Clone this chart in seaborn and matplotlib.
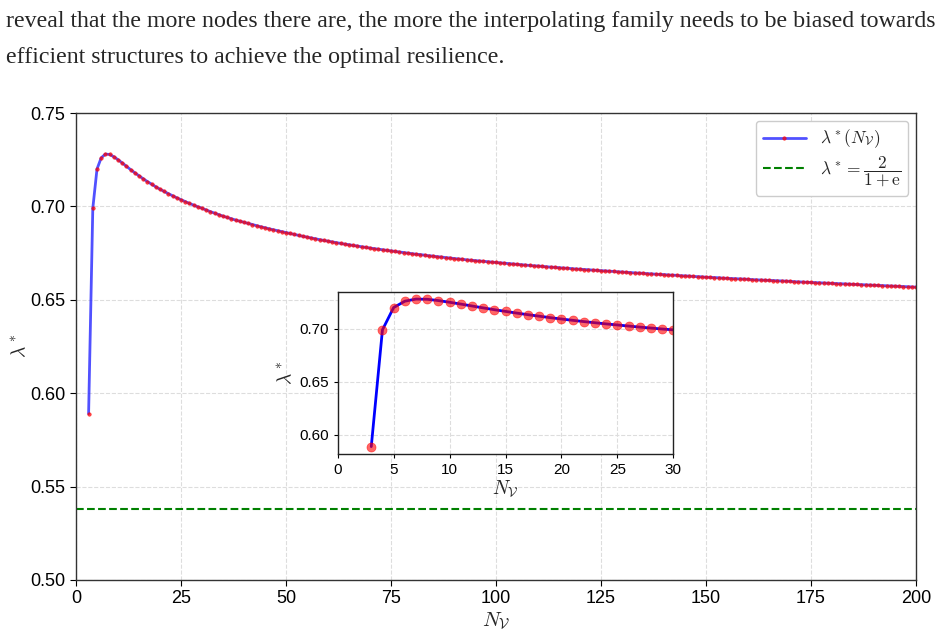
#!/usr/bin/env python3
import numpy as np
import pandas as pd
import matplotlib
matplotlib.use("Agg")
import matplotlib.pyplot as plt
import seaborn as sns

# Values
n_nodes = list(range(3, 201))
lambda_opt = [
    0.5890, 0.6990, 0.7200, 0.7260, 0.7280, 0.7278, 0.7266, 0.7250, 0.7233, 0.7215,  # 3-12
    0.7197, 0.7180, 0.7164, 0.7148, 0.7133, 0.7119, 0.7105, 0.7092, 0.7080, 0.7068,  # 13-22
    0.7057, 0.7046, 0.7036, 0.7026, 0.7016, 0.7007, 0.6998, 0.6990, 0.6981, 0.6972,  # 23-32
    0.6964, 0.6956, 0.6948, 0.6941, 0.6934, 0.6927, 0.6921, 0.6915, 0.6909, 0.6903,  # 33-42
    0.6897, 0.6891, 0.6886, 0.6880, 0.6875, 0.6870, 0.6865, 0.6860, 0.6855, 0.6850,  # 43-52
    0.6845, 0.6840, 0.6836, 0.6831, 0.6827, 0.6822, 0.6818, 0.6814, 0.6810, 0.6806,  # 53-62
    0.6802, 0.6798, 0.6795, 0.6791, 0.6788, 0.6784, 0.6781, 0.6777, 0.6774, 0.6771,  # 63-72
    0.6768, 0.6765, 0.6762, 0.6759, 0.6756, 0.6753, 0.6750, 0.6747, 0.6744, 0.6742,  # 73-82
    0.6739, 0.6736, 0.6734, 0.6731, 0.6729, 0.6726, 0.6724, 0.6721, 0.6719, 0.6717,  # 83-92
    0.6714, 0.6712, 0.6710, 0.6708, 0.6706, 0.6704, 0.6702, 0.6700, 0.6698, 0.6696,  # 93-102
    0.6694, 0.6692, 0.6690, 0.6688, 0.6686, 0.6684, 0.6682, 0.6681, 0.6679, 0.6677,  # 103-112
    0.6675, 0.6674, 0.6672, 0.6670, 0.6669, 0.6667, 0.6665, 0.6664, 0.6662, 0.6661,  # 113-122
    0.6659, 0.6658, 0.6656, 0.6655, 0.6653, 0.6652, 0.6650, 0.6649, 0.6647, 0.6646,  # 123-132
    0.6644, 0.6643, 0.6642, 0.6640, 0.6639, 0.6637, 0.6636, 0.6635, 0.6633, 0.6632,  # 133-142
    0.6631, 0.6629, 0.6628, 0.6627, 0.6625, 0.6624, 0.6623, 0.6621, 0.6620, 0.6619,  # 143-152
    0.6618, 0.6616, 0.6615, 0.6614, 0.6613, 0.6612, 0.6611, 0.6610, 0.6608, 0.6607,  # 153-162
    0.6606, 0.6605, 0.6604, 0.6603, 0.6602, 0.6601, 0.6600, 0.6599, 0.6597, 0.6596,  # 163-172
    0.6595, 0.6594, 0.6593, 0.6592, 0.6591, 0.6590, 0.6589, 0.6588, 0.6587, 0.6586,  # 173-182
    0.6585, 0.6584, 0.6583, 0.6582, 0.6581, 0.6580, 0.6579, 0.6578, 0.6577, 0.6576,  # 183-192
    0.6575, 0.6574, 0.6573, 0.6572, 0.6571, 0.6570, 0.6569, 0.6568,                  # 193-200
]
lambda_ref = 0.538  # 2 / (1 + e)
inset_max_n = 30

main_xticks = [0, 25, 50, 75, 100, 125, 150, 175, 200]
main_yticks = [0.50, 0.55, 0.60, 0.65, 0.70, 0.75]
inset_xticks = [0, 5, 10, 15, 20, 25, 30]
inset_yticks = [0.60, 0.65, 0.70]

caption = [
    "reveal that the more nodes there are, the more the interpolating family needs to be biased towards",
    "efficient structures to achieve the optimal resilience.",
]

df = pd.DataFrame({"N": n_nodes, "lam": lambda_opt})
df_small = df[df["N"] <= inset_max_n]

# Style
sns.set_style("ticks")
plt.rcParams.update({
    "font.family": ["Liberation Sans", "DejaVu Sans"],
    "mathtext.fontset": "cm",
    "axes.edgecolor": "black",
    "axes.linewidth": 1.0,
    "xtick.color": "black",
    "ytick.color": "black",
})

fig = plt.figure(figsize=(9.44, 6.31), dpi=100)

# text from the paper above the figure
serif = ["Liberation Serif", "DejaVu Serif"]
fig.text(0.006, 1 - 21 / 631, caption[0], fontsize=17.2, family=serif,
         va="center", ha="left")
fig.text(0.006, 1 - 57 / 631, caption[1], fontsize=17.2, family=serif,
         va="center", ha="left")

ax = fig.add_axes([76 / 944, 1 - 580 / 631, 840 / 944, 467 / 631])
sns.lineplot(data=df, x="N", y="lam", ax=ax, color=(0.15, 0.15, 1.0, 0.8),
             linewidth=2, marker="o", markersize=2.5,
             markerfacecolor=(1, 0, 0, 0.7), markeredgecolor=(1, 0, 0, 0.7),
             markeredgewidth=0.5, label=r"$\lambda^*(N_\mathcal{V})$")
ax.axhline(lambda_ref, color="green", linestyle="--", linewidth=1.5,
           label=r"$\lambda^* = \dfrac{2}{1+\mathrm{e}}$")
ax.set_xlim(0, 200)
ax.set_ylim(0.5, 0.75)
ax.set_xticks(main_xticks)
ax.set_yticks(main_yticks)
ax.set_yticklabels([f"{v:.2f}" for v in main_yticks])
ax.tick_params(labelsize=13, length=4)
ax.grid(True, linestyle="--", color="#dddddd", linewidth=0.8)
ax.set_xlabel(r"$N_\mathcal{V}$", fontsize=15, labelpad=2)
ax.set_ylabel(r"$\lambda^*$", fontsize=14, labelpad=1)
for s in ax.spines.values():
    s.set_visible(True)
    s.set_color("#333333")
leg = ax.legend(loc="upper right", fontsize=12.5, frameon=True, fancybox=True,
                edgecolor="#cccccc", framealpha=1.0, handlelength=2.5,
                labelspacing=0.25, borderaxespad=0.45)

# inset with first nodes
axin = fig.add_axes([337.7 / 944, 1 - 454 / 631, 335.6 / 944, 162.3 / 631])
sns.lineplot(data=df_small, x="N", y="lam", ax=axin, color="blue", linewidth=2,
             marker="o", markersize=6.5, markerfacecolor=(1, 0, 0, 0.6),
             markeredgecolor=(1, 0, 0, 0.6), markeredgewidth=0.5)
axin.set_xlim(0, 30)
axin.set_xticks(inset_xticks)
axin.set_yticks(inset_yticks)
axin.set_yticklabels([f"{v:.2f}" for v in inset_yticks])
axin.tick_params(labelsize=11, length=3)
axin.grid(True, linestyle="--", color="#dddddd", linewidth=0.8)
axin.set_xlabel(r"$N_\mathcal{V}$", fontsize=14, labelpad=1)
axin.set_ylabel(r"$\lambda^*$", fontsize=14, labelpad=3)
for s in axin.spines.values():
    s.set_visible(True)
    s.set_color("#222222")

fig.savefig("out.png", dpi=100)
plt.close(fig)
